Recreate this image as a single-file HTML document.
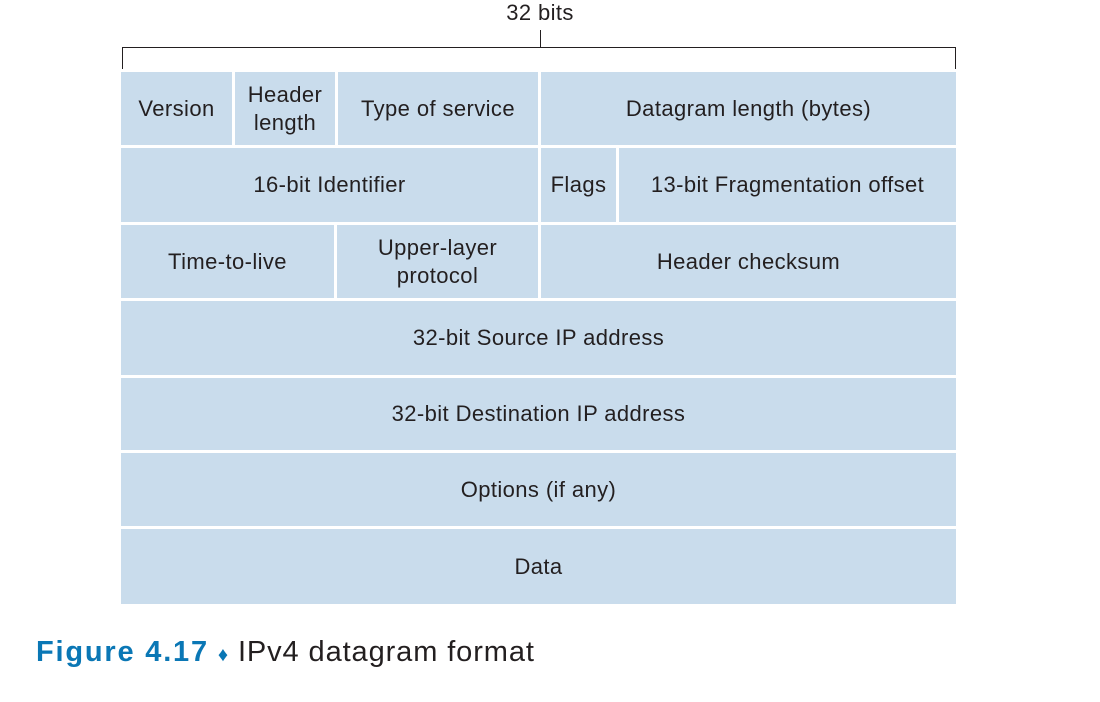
<!DOCTYPE html>
<html><head><style>
body{margin:0;width:1100px;height:702px;background:#fff;position:relative;font-family:"Liberation Sans",sans-serif;color:#231f20;overflow:hidden}
.c{position:absolute;background:#c9dcec;display:flex;align-items:center;justify-content:center;text-align:center;font-size:22px;line-height:28px;letter-spacing:0.4px}
.l{position:absolute;background:#231f20}
</style></head><body>
<div style="position:absolute;left:480px;top:0;width:120px;text-align:center;font-size:22px;letter-spacing:0.4px">32 bits</div>
<div class="l" style="left:540px;top:30px;width:1px;height:17px"></div>
<div class="l" style="left:122px;top:47px;width:834px;height:1px"></div>
<div class="l" style="left:122px;top:47px;width:1px;height:22px"></div>
<div class="l" style="left:955px;top:47px;width:1px;height:22px"></div>

<div class="c" style="left:121px;top:72px;width:111px;height:73px">Version</div>
<div class="c" style="left:235px;top:72px;width:100px;height:73px">Header<br>length</div>
<div class="c" style="left:338px;top:72px;width:200px;height:73px">Type of service</div>
<div class="c" style="left:541px;top:72px;width:415px;height:73px">Datagram length (bytes)</div>

<div class="c" style="left:121px;top:148px;width:417px;height:74px">16-bit Identifier</div>
<div class="c" style="left:541px;top:148px;width:75px;height:74px">Flags</div>
<div class="c" style="left:619px;top:148px;width:337px;height:74px">13-bit Fragmentation offset</div>

<div class="c" style="left:121px;top:225px;width:213px;height:73px">Time-to-live</div>
<div class="c" style="left:337px;top:225px;width:201px;height:73px">Upper-layer<br>protocol</div>
<div class="c" style="left:541px;top:225px;width:415px;height:73px">Header checksum</div>

<div class="c" style="left:121px;top:301px;width:835px;height:74px">32-bit Source IP address</div>
<div class="c" style="left:121px;top:378px;width:835px;height:72px">32-bit Destination IP address</div>
<div class="c" style="left:121px;top:453px;width:835px;height:73px">Options (if any)</div>
<div class="c" style="left:121px;top:529px;width:835px;height:75px">Data</div>

<div style="position:absolute;left:36px;top:636px;font-size:29px;white-space:nowrap;letter-spacing:0.9px"><b style="color:#0a77b5;letter-spacing:1.8px">Figure 4.17</b> <span style="color:#0a77b5;font-size:20px">&#9830;</span> IPv4 datagram format</div>
</body></html>
